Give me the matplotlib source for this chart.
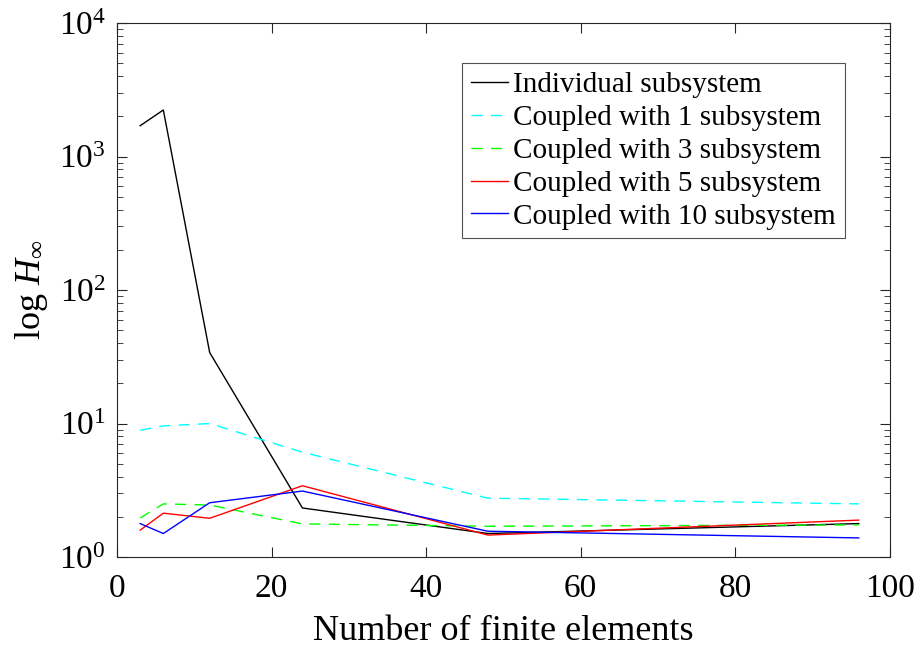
import numpy as np
import matplotlib
matplotlib.use('Agg')
import matplotlib.pyplot as plt
from matplotlib.ticker import LogLocator, FixedLocator

plt.rcParams['font.family'] = ['Liberation Serif', 'DejaVu Serif']
plt.rcParams['mathtext.fontset'] = 'custom'
plt.rcParams['mathtext.rm'] = 'Liberation Serif'
plt.rcParams['mathtext.it'] = 'Liberation Serif:italic'

# data
n_elements = [3, 6, 12, 24, 48, 96]
individual = [1700, 2230, 34, 2.33, 1.5, 1.78]
coupled_1 = [8.9, 9.6, 10.0, 6.1, 2.76, 2.5]
coupled_3 = [1.96, 2.5, 2.45, 1.77, 1.70, 1.74]
coupled_5 = [1.59, 2.13, 1.95, 3.42, 1.46, 1.89]
coupled_10 = [1.78, 1.5, 2.55, 3.12, 1.56, 1.39]

labels = ['Individual subsystem', 'Coupled with 1 subsystem',
          'Coupled with 3 subsystem', 'Coupled with 5 subsystem',
          'Coupled with 10 subsystem']

fig = plt.figure(figsize=(9.21, 6.48), dpi=100)
ax = fig.add_axes([0.127, 0.1404, 0.839, 0.8241])

ax.plot(n_elements, individual, color='k', lw=1, label=labels[0])
ax.plot(n_elements, coupled_1, color='cyan', lw=1, ls=(0, (8, 6)), label=labels[1])
ax.plot(n_elements, coupled_3, color='#00ff00', lw=1, ls=(0, (8, 6)), label=labels[2])
ax.plot(n_elements, coupled_5, color='red', lw=1, label=labels[3])
ax.plot(n_elements, coupled_10, color='blue', lw=1, label=labels[4])

ax.set_yscale('log')
ax.set_xlim(0, 100)
ax.set_ylim(1, 1e4)
ax.xaxis.set_major_locator(FixedLocator([0, 20, 40, 60, 80, 100]))
ax.yaxis.set_major_locator(LogLocator(base=10, numticks=10))
ax.yaxis.set_minor_locator(LogLocator(base=10, subs=np.arange(2, 10), numticks=20))

ax.tick_params(which='both', direction='in', top=True, right=True,
               colors='#262626', labelcolor='k')
ax.tick_params(which='major', length=7, labelsize=24)
ax.tick_params(axis='x', which='major', pad=12)
ax.tick_params(axis='y', which='major', pad=8)
ax.tick_params(which='minor', length=4)
for s in ax.spines.values():
    s.set_color('#262626')
    s.set_linewidth(0.8)

ax.set_xlabel('Number of finite elements', fontsize=26, labelpad=8)
ax.set_ylabel(r'log $H_\infty$', fontsize=26, labelpad=6)

leg = ax.legend(loc='upper right', bbox_to_anchor=(0.942, 0.925), fontsize=21,
                frameon=True, fancybox=False, edgecolor='#262626',
                labelspacing=0.22, handlelength=1.25, handletextpad=0.2,
                borderpad=0.3, borderaxespad=0)
leg.get_frame().set_linewidth(0.8)

fig.savefig('out.png', dpi=100)
